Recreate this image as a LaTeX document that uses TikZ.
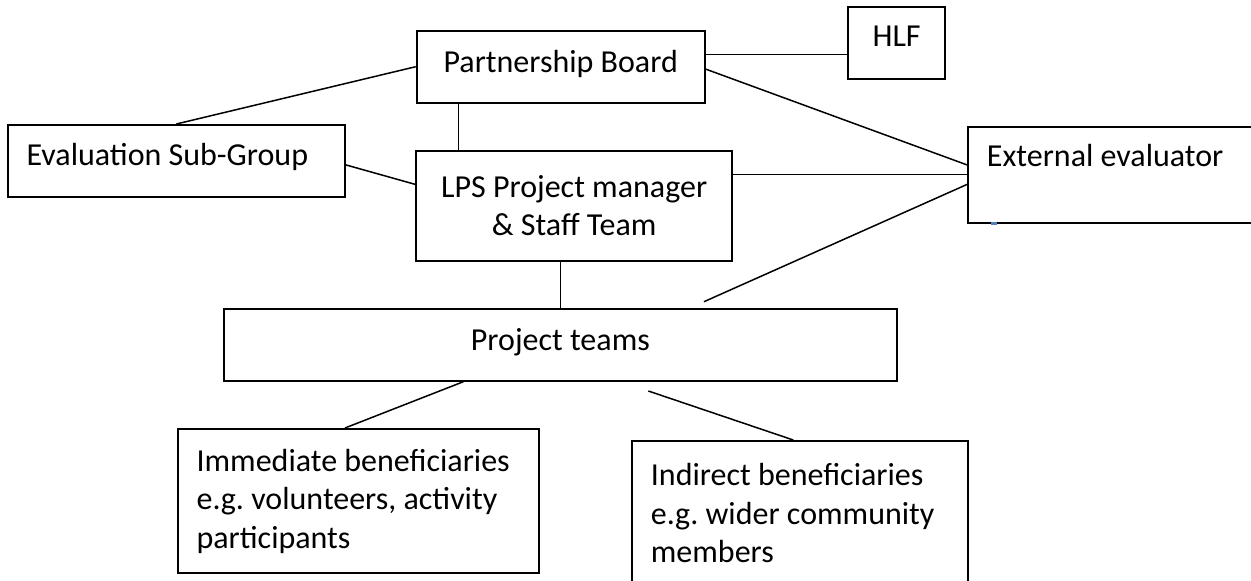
\documentclass[tikz,border=0pt]{standalone}
\usepackage{fontspec}
\setmainfont{Carlito}
\usepackage{tikz}
\definecolor{inkblue}{HTML}{4F81BD}
\frenchspacing

\begin{document}
\begin{tikzpicture}[x=0.5pt,y=-0.5pt,font=\fontsize{16}{19.2}\selectfont,
  box/.style={draw,line width=1pt,rectangle,inner ysep=0pt},
  onerow/.style={box,inner xsep=0pt,text height=20.5pt},
  leftrow/.style={box,inner xsep=9.3pt,align=flush left,text height=20pt},
  link/.style={line width=0.75pt}]
\useasboundingbox (0,0) rectangle (1251,580);
\node[onerow,minimum width=144pt,text height=21pt,text depth=15pt] (pb) at (560.7,66.7) {Partnership Board};
\node[onerow,minimum width=48.35pt,text height=20pt,text depth=16.15pt] (hlf) at (896.65,42.85) {HLF};
\node[leftrow,text width=149.75pt,text depth=15.85pt] (esg) at (176.35,160.85) {Evaluation Sub-Group};
\node[box,inner xsep=0pt,align=center,minimum width=158.15pt,minimum height=55pt] (lps) at (574.15,205.7) {LPS Project manager\\ \& Staff Team};
\node[leftrow,text width=131.4pt,text depth=28pt] (ee) at (1118.3,174.7) {External evaluator};
\node[onerow,minimum width=336.35pt,text depth=15.35pt] (pt) at (560.35,344.85) {Project teams};
\node[box,inner xsep=9.3pt,align=flush left,text width=161.75pt,minimum height=72.15pt] (imm) at (358.35,501.15)
  {Immediate beneficiaries\\ e.g. volunteers, activity\\ participants};
\node[box,inner xsep=9.3pt,align=flush left,text width=149.4pt,minimum height=72.15pt] (ind) at (800.3,513.15)
  {Indirect beneficiaries\\ e.g. wider community\\ members};
\draw[link] ([yshift=6.2pt]pb.east) -- ([yshift=6.2pt]pb.east -| hlf.west);
\draw[link] (pb.west) -- (esg.north);
\draw[link] ([xshift=-51pt]pb.south) -- ([xshift=-51pt]pb.south |- lps.north);
\draw[link] ([yshift=-2pt]esg.east) -- ([yshift=10.7pt]lps.west);
\draw[link] ([yshift=-1.2pt]pb.east) -- ([yshift=4.85pt]ee.west);
\draw[link] (ee.west -| lps.east) -- (ee.west);
\draw[link] ([xshift=71.8pt,yshift=3.15pt]pt.north) -- ([yshift=-4.8pt]ee.west);
\draw[link] (pt.north |- lps.south) -- (pt.north);
\draw[link] ([xshift=-48.5pt]pt.south) -- ([xshift=-6.7pt]imm.north);
\draw[link] ([xshift=44pt,yshift=-4.65pt]pt.south) -- ([xshift=-3.5pt]ind.north);
\fill[inkblue] ([xshift=11.8pt,yshift=0.7pt]ee.south west) rectangle ++(3pt,-1.5pt);
\end{tikzpicture}
\end{document}
